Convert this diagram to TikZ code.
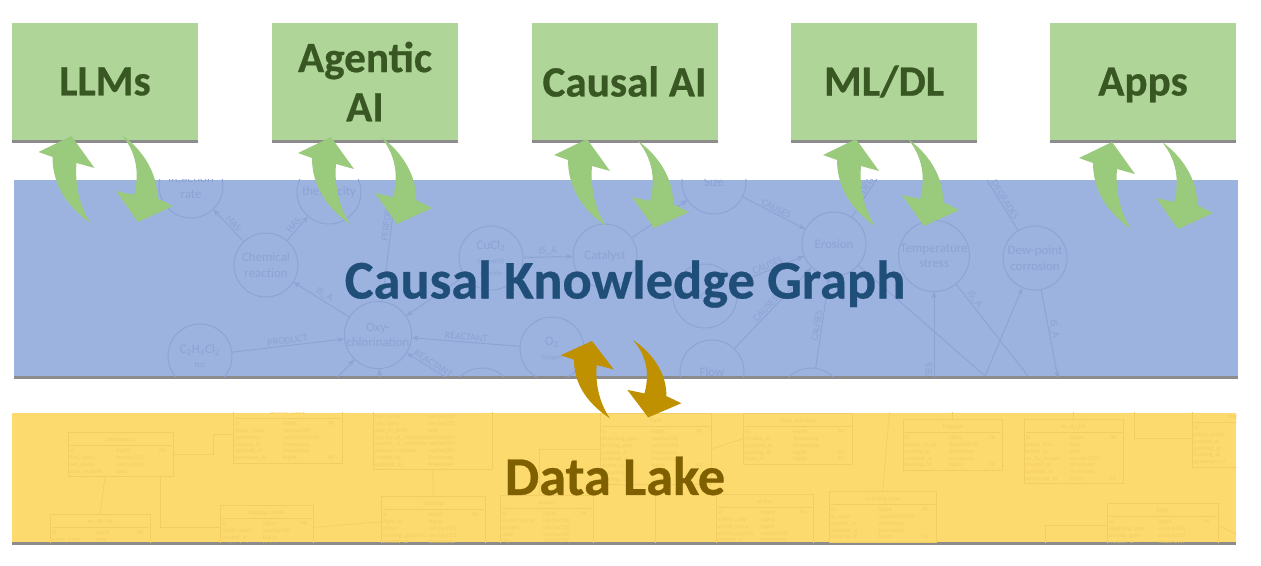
\documentclass[tikz,border=0pt]{standalone}
\usepackage{fontspec}
\setmainfont[BoldFeatures={FakeBold=0.5}]{Carlito}
\usepackage{tikz}
\usetikzlibrary{arrows.meta,positioning,calc,shadows}
\usepackage{xcolor}

\definecolor{boxgreen}{HTML}{AFD598}
\definecolor{boxtext}{HTML}{385723}
\definecolor{arrowgreen}{HTML}{9ACA7C}
\definecolor{kgblue}{HTML}{9CB2DF}
\definecolor{kgtext}{HTML}{1F4E79}
\definecolor{kgfaint}{HTML}{8CA4D4}
\definecolor{lakeyellow}{HTML}{FDDA6E}
\definecolor{laketext}{HTML}{7F6000}
\definecolor{lakefaint}{HTML}{F2CD64}
\definecolor{arrowgold}{HTML}{BF9000}

\newlength\erunit
\setlength\erunit{0.75bp}
% one table of the faint schema: name, x, y, width, title, rows
\newcommand\ertable[6]{%
  \node[ertable] (#1) at (#2,#3) {%
    \begin{tabular}{@{}p{\dimexpr #4\erunit*46/100\relax}@{}p{\dimexpr #4\erunit*42/100\relax}@{}p{\dimexpr #4\erunit*12/100\relax}@{}}
      \multicolumn{3}{@{}c@{}}{\rule{0pt}{6pt}#5}\\[1pt]\hline
      \rule{0pt}{5.4pt}#6
    \end{tabular}};}

\tikzset{
  appbox/.style={rectangle,fill=boxgreen,text=boxtext,font=\fontsize{32.5}{37}\selectfont\bfseries,
    align=center,minimum width=139.5bp,minimum height=88bp,inner sep=0pt,
    drop shadow={shadow xshift=0pt,shadow yshift=-2.2bp,fill=black!60,opacity=.75}},
  band/.style={rectangle,minimum width=918bp,inner sep=0pt,
    drop shadow={shadow xshift=0pt,shadow yshift=-2.2bp,fill=black!60,opacity=.75}},
  kgnode/.style={circle,draw=kgfaint,text=kgfaint,line width=.7pt,minimum size=48bp,inner sep=0pt,
    align=center,font=\fontsize{9.7}{11.5}\selectfont},
  kgedge/.style={draw=kgfaint,line width=.7pt,-{Stealth[length=5pt,width=4pt]}},
  kglabel/.style={text=kgfaint,font=\fontsize{7.6}{8}\selectfont,sloped,above,inner sep=1pt},
  ertable/.style={draw=lakefaint,text=lakefaint,anchor=north west,inner sep=1pt,line width=.5pt,
    font=\fontsize{4.4}{5.1}\selectfont},
  eredge/.style={draw=lakefaint,line width=.5pt},
  bigtitle/.style={font=\fontsize{41}{44}\selectfont\bfseries,inner sep=0pt},
  uparrow/.pic={\path[pic actions] (0,0) -- (-33,16) -- (-19,21) .. controls (-19,45) and (-8,68) .. (19,87)
      .. controls (9,72) and (3,50) .. (5,27) -- (23,32) -- cycle;},
  downarrow/.pic={\path[pic actions] (0,0) .. controls (20,14) and (36,38) .. (35,63) -- (51,71) -- (16,87)
      -- (-6,56) -- (12,60) .. controls (16,45) and (18,22) .. (0,0) -- cycle;},
}

\begin{document}
\begin{tikzpicture}[x=0.75bp,y=-0.75bp]
  \useasboundingbox (0,0) rectangle (1261,565);

  % top row
  \node[appbox] (llms) at (105,81.5) {LLMs};
  \node[appbox] (agentic) at (365,81.5) {Agentic\\AI};
  \node[appbox] (causal) at (624.5,81.5) {Causal AI};
  \node[appbox] (mldl) at (884,81.5) {ML/DL};
  \node[appbox,text depth=0pt] (apps) at (1143,81.5) {Apps};

  % knowledge graph band
  \node[band,fill=kgblue,minimum height=147bp] (kgband) at (626,278) {};
  \begin{scope}
    \clip (kgband.south west) rectangle (kgband.north east);
    \node[kgnode] (rate) at (191,186) {Reaction\\rate};
    \node[kgnode] (thermicity) at (329,192) {thermicity};
    \node[kgnode] (chem) at (266,265) {Chemical\\reaction};
    \node[kgnode] (oxy) at (378,335) {Oxy-\\chlorination};
    \node[kgnode] (edc) at (200,356) {C\textsubscript{2}H\textsubscript{4}Cl\textsubscript{2}\\[-1pt]\tiny EDC};
    \node[kgnode] (cucl) at (491,258) {CuCl\textsubscript{2}\\[-1pt]\tiny Copper(II)\\[-2pt]\tiny chloride};
    \node[kgnode] (catalyst) at (605,256) {Catalyst};
    \node[kgnode] (oxygen) at (552,349) {O\textsubscript{2}\\[-1pt]\tiny Oxygen};
    \node[kgnode] (size) at (714,182) {Size};
    \node[kgnode] (erosion) at (834,244) {Erosion};
    \node[kgnode] (tstress) at (934,256) {Temperature\\stress};
    \node[kgnode] (dewpoint) at (1035,258) {Dew-point\\corrosion};
    \node[kgnode] (velocity) at (705,296) {Velocity};
    \node[kgnode] (flow) at (712,372) {Flow};
    \node[kgnode] (low) at (811,400) {};
    \node[kgnode] (reactb) at (482,400) {};
    \coordinate (perftop) at (394,205);
    \coordinate (usesend) at (934,400);
    \coordinate (degtop) at (987,180);
    \coordinate (erotop) at (886,165);
    \coordinate (c1) at (985,376);
    \coordinate (c2) at (1028,376);
    \coordinate (c3) at (1058,378);
    \coordinate (oxyb1) at (330,385);
    \coordinate (oxyb2) at (380,385);
    \draw[kgedge] (chem) -- node[kglabel,pos=.45] {HAS} (rate);
    \draw[kgedge] (chem) -- node[kglabel] {HAS} (thermicity);
    \draw[kgedge] (oxy) -- node[kglabel] {IS\_A} (chem);
    \draw[kgedge] (edc) -- node[kglabel] {PRODUCT} (oxy);
    \draw[kgedge] (oxygen) -- node[kglabel] {REACTANT} (oxy);
    \draw[kgedge] (cucl) -- node[kglabel] {IS\_A} (catalyst);
    \draw[kgedge] (cucl) -- (oxy);
    \draw[kgedge] (catalyst) -- (size);
    \draw[kgedge] (size) -- node[kglabel] {CAUSES} (erosion);
    \draw[kgedge] (velocity) -- node[kglabel] {CAUSES} (erosion);
    \draw[kgedge] (flow) -- node[kglabel,pos=.45] {CAUSES} (erosion);
    \draw[kgedge] (low) -- node[kglabel,pos=.45] {CAUSES} (erosion);
    \draw[kgedge] (reactb) -- node[kglabel] {REACTANT} (oxy);
    \draw[kgedge] (oxyb1) -- (oxy);
    \draw[kgedge] (oxyb2) -- (oxy);
    \draw[kgedge,-] (oxy) -- node[kglabel,pos=.85] {PERFORMS} (perftop);
    \draw[kgedge] (usesend) -- node[kglabel,pos=.25] {USES} (tstress);
    \draw[kgedge,-] (tstress) -- node[kglabel,pos=.2] {IS\_A} (c2);
    \draw[kgedge] (c1) -- (dewpoint);
    \draw[kgedge] (dewpoint) -- node[kglabel,pos=.45] {IS\_A} (c3);
    \draw[kgedge,-] (degtop) -- node[kglabel,pos=.45] {DEGRADES} (dewpoint);
    \draw[kgedge,-] (erosion) -- node[kglabel,pos=.6] {DEGR} (erotop);
    \draw[kgedge,-] (erosion) -- (c1);
  \end{scope}
  \node[bigtitle,text=kgtext] (kgtitle) at (625,284) {Causal Knowledge Graph};

  % data lake band
  \node[band,fill=lakeyellow,minimum height=97bp] (lakeband) at (624,477.5) {};
  \begin{scope}
    \clip (lakeband.south west) rectangle (lakeband.north east);
    \ertable{passenger}{68}{432}{102}{passenger-1}{id & bigint & PK\\first\_name & varchar(50) &\\last\_name & varchar(50) &\\date\_of\_birth & date &\\}
    \ertable{securitycheck}{233}{405}{106}{security\_check}{id & bigint & PK\\check\_result & varchar(20) &\\comments & varchar(65535) &\\created\_at & timestamp &\\updated\_at & timestamp &\\passenger\_id & bigint & FK\\}
    \ertable{passengerb}{373}{398}{116}{passenger}{first\_name & varchar(50) &\\last\_name & varchar(50) &\\date\_of\_birth & date &\\country\_of\_citizenship & varchar(50) &\\country\_of\_residence & varchar(50) &\\passport\_number & varchar(20) &\\created\_at & timestamp &\\updated\_at & timestamp &\\}
    \ertable{noflyb}{50}{514}{97}{no\_fly\_list}{id & bigint & PK\\active\_from & date &\\active\_to & date &\\}
    \ertable{baggagecheck}{220}{505}{90}{baggage\_check}{id & bigint & PK\\check\_result & varchar(50) &\\created\_at & bigint &\\updated\_at & bigint &\\}
    \ertable{booking}{381}{496}{101}{booking}{id & bigint & PK\\flight\_id & bigint &\\status & varchar(20) &\\booking\_platform & varchar(20) &\\created\_at & timestamp &\\}
    \ertable{airport}{500}{495}{90}{airport}{id & bigint & PK\\airport\_name & varchar(50) &\\country & varchar(50) &\\state & varchar(50) &\\city & varchar(50) &\\}
    \ertable{flightb}{600}{413}{108}{flight}{id & bigint & PK\\departing\_gate & varchar(20) &\\arriving\_gate & varchar(20) &\\created\_at & timestamp &\\updated\_at & timestamp &\\airline\_id & bigint & FK\\departing\_id & bigint &\\arriving\_id & bigint &\\}
    \ertable{manifest}{743}{413}{106}{flight\_manifest}{id & bigint & PK\\created\_at & timestamp &\\updated\_at & timestamp &\\booking\_id & bigint & FK\\flight\_id & bigint & FK\\}
    \ertable{baggage}{903}{419}{96}{baggage}{id & bigint & PK\\weight\_in\_kg & decimal(4,2) &\\created\_at & timestamp &\\updated\_at & timestamp &\\booking\_id & bigint & FK\\}
    \ertable{nofly}{1024}{419}{96}{no\_fly\_list}{id & bigint & PK\\active\_from & date &\\active\_to & date &\\no\_fly\_reason & varchar(255) &\\created\_at & timestamp &\\updated\_at & timestamp &\\passenger\_id & bigint & FK\\}
    \ertable{baggagecheckb}{1192}{409}{106}{baggage\_check}{id & bigint & PK\\check\_result & varchar(50) &\\created\_at & bigint &\\updated\_at & bigint &\\booking\_id & bigint &\\passenger\_id & bigint &\\}
    \ertable{airline}{716}{494}{94}{airline}{id & bigint & PK\\airline\_code & bigint &\\airline\_name & bigint &\\airline\_country & varchar(50) &\\created\_at & timestamp &\\}
    \ertable{boarding}{829}{491}{104}{boarding\_pass}{id & bigint & PK\\qr\_code & varchar(65535) &\\created\_at & timestamp &\\updated\_at & timestamp &\\booking\_id & bigint & FK\\}
    \ertable{flight}{1107}{503}{108}{flight}{id & bigint & PK\\departing\_gate & varchar(20) &\\arriving\_gate & varchar(20) &\\created\_at & timestamp &\\}
    \coordinate (lakeright) at (1240,536);
    \coordinate (laketop) at (890,405);
    \coordinate (laketopb) at (1134,405);
    \coordinate (lowleft) at (1045,560);
    \draw[eredge] (passenger.east) -- ++(40,0) |- (securitycheck.west);
    \draw[eredge] (passenger.south west)++(37,0) -- (noflyb.north);
    \draw[eredge] (passenger.south west)++(92,0) |- (baggagecheck.west);
    \draw[eredge] (passengerb.south) -- (booking.north);
    \draw[eredge] (baggagecheck.east) -- (booking.west);
    \draw[eredge] (flightb.east) -- (manifest.west);
    \draw[eredge] (airport.north) ++(-7,0) |- (flightb.west);
    \draw[eredge] (laketop) -- (boarding.north);
    \draw[eredge] (laketopb) |- (baggagecheckb.west);
    \draw[eredge] (baggage.north) -- ++(0,-10);
    \draw[eredge] (nofly.north) -- ++(0,-10);
    \draw[eredge] (lowleft) |- (flight.west);
    \draw[eredge] (flight.east) -- (lakeright);
    \draw[eredge] (flightb.south) -- ++(0,70);
  \end{scope}
  \node[bigtitle,text=laketext] (laketitle) at (615,476) {Data Lake};

  % exchange arrows
  \coordinate (up1) at (71.5,136);
  \coordinate (up2) at (331,137);
  \coordinate (up3) at (587,139);
  \coordinate (up4) at (856,139);
  \coordinate (up5) at (1112,142);
  \coordinate (dn1) at (122,135);
  \coordinate (dn2) at (381,137);
  \coordinate (dn3) at (638,141);
  \coordinate (dn4) at (908,139);
  \coordinate (dn5) at (1162,142);
  \coordinate (upgold) at (592,341);
  \coordinate (dngold) at (633,340);
  \foreach \p in {up1,up2,up3,up4,up5}{\pic[fill=arrowgreen] at (\p) {uparrow};}
  \foreach \p in {dn1,dn2,dn3,dn4,dn5}{\pic[fill=arrowgreen] at (\p) {downarrow};}
  \pic[fill=arrowgold,xscale=.95,yscale=.89] at (upgold) {uparrow};
  \pic[fill=arrowgold,xscale=.95,yscale=.89] at (dngold) {downarrow};
\end{tikzpicture}
\end{document}
